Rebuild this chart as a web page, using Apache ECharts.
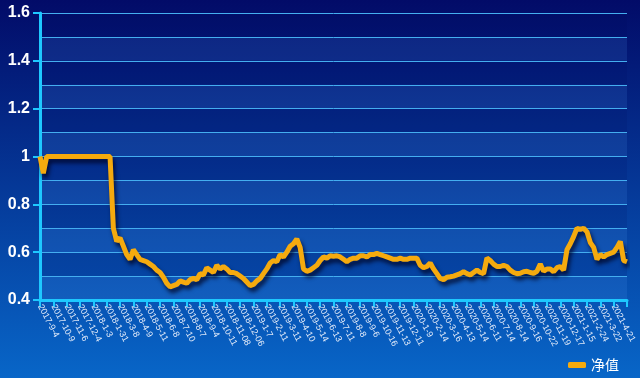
<!DOCTYPE html>
<html>
<head>
<meta charset="utf-8">
<script src="https://cdn.jsdelivr.net/npm/echarts@6/dist/echarts.min.js"></script>
<style>
	html, body {margin: 0; padding: 0;}
	#chart {width: 640px; height: 378px;}
</style>
</head>
<body>
<div id="chart"></div>
<script>
// 坐标轴上显示的日期(每4个点一个)
var tickDates = ["2017-9-4","2017-10-9","2017-11-6","2017-12-4","2018-1-3","2018-1-31","2018-3-8","2018-4-9",
	"2018-5-11","2018-6-8","2018-7-10","2018-8-7","2018-9-4","2018-10-11","2018-11-08","2018-12-06",
	"2019-1-7","2019-2-11","2019-3-11","2019-4-10","2019-5-14","2019-6-13","2019-7-11","2019-8-8",
	"2019-9-6","2019-10-16","2019-11-13","2019-12-11","2020-1-9","2020-2-14","2020-3-16","2020-4-13",
	"2020-5-14","2020-6-11","2020-7-14","2020-8-14","2020-9-16","2020-10-22","2020-11-19","2020-12-17",
	"2021-1-15","2021-2-24","2021-3-22","2021-4-21"];
var stepPerTick = 4;

// 净值
var navValues = [
	1.0, 0.93, 1.0, 1.0, 1.0, 1.0, 1.0, 1.0, 1.0, 1.0,
	1.0, 1.0, 1.0, 1.0, 1.0, 1.0, 1.0, 1.0, 1.0, 1.0,
	1.0, 1.0, 0.70, 0.645, 0.66, 0.625, 0.59, 0.57, 0.61, 0.59, 0.57,
	0.565, 0.56, 0.55, 0.54, 0.525, 0.515, 0.495, 0.47, 0.455, 0.46,
	0.465, 0.48, 0.475, 0.47, 0.485, 0.49, 0.485, 0.51, 0.505, 0.535,
	0.525, 0.515, 0.545, 0.53, 0.54, 0.53, 0.515, 0.515, 0.51, 0.50,
	0.49, 0.475, 0.46, 0.465, 0.48, 0.49, 0.51, 0.53, 0.555, 0.565,
	0.56, 0.59, 0.58, 0.60, 0.625, 0.635, 0.655, 0.62, 0.53, 0.52,
	0.525, 0.535, 0.545, 0.565, 0.58, 0.575, 0.585, 0.583, 0.585, 0.58, 0.57,
	0.56, 0.57, 0.575, 0.575, 0.585, 0.585, 0.58, 0.59, 0.59, 0.595,
	0.59, 0.585, 0.58, 0.575, 0.57, 0.57, 0.575, 0.57, 0.57, 0.575,
	0.575, 0.575, 0.545, 0.535, 0.54, 0.555, 0.53, 0.51, 0.49, 0.485,
	0.495, 0.497, 0.50, 0.505, 0.51, 0.518, 0.51, 0.505, 0.515, 0.525,
	0.515, 0.51, 0.575, 0.565, 0.55, 0.54, 0.54, 0.545, 0.54, 0.525,
	0.515, 0.51, 0.512, 0.518, 0.52, 0.515, 0.512, 0.52, 0.55, 0.52, 0.53,
	0.53, 0.518, 0.535, 0.54, 0.525, 0.61, 0.635, 0.665, 0.70, 0.695,
	0.70, 0.685, 0.64, 0.62, 0.57, 0.59, 0.58, 0.59, 0.595, 0.60,
	0.62, 0.645, 0.565, 0.56
];

var categories = [];
for (var i = 0; i < navValues.length; i++) {
	categories.push(i % stepPerTick == 0 ? (tickDates[i / stepPerTick] || "") : "");
}

var axisColor = '#1ec8ff';

var option = {
	backgroundColor: new echarts.graphic.LinearGradient(0, 0, 0, 1, [
		{offset: 0, color: '#020b68'},
		{offset: 1, color: '#0866c8'}
	]),
	animation: false,
	grid: {left: 40, right: 13, top: 13, bottom: 78, containLabel: false, outerBoundsMode: 'none'},
	legend: {
		right: 16,
		bottom: 1,
		icon: 'roundRect',
		itemWidth: 18,
		itemHeight: 6,
		textStyle: {color: '#fff', fontSize: 14, fontFamily: 'Noto Sans CJK SC'},
		data: ['净值']
	},
	xAxis: {
		type: 'category',
		boundaryGap: false,
		data: categories,
		axisLine: {lineStyle: {color: axisColor, width: 3}},
		axisTick: {interval: stepPerTick - 1, length: 7, lineStyle: {color: axisColor, width: 2}},
		axisLabel: {
			interval: stepPerTick - 1,
			rotate: -62,
			color: '#e4ecfa',
			fontSize: 9,
			margin: 5,
			fontFamily: 'Liberation Sans'
		},
		splitLine: {show: false}
	},
	yAxis: [
		{
			type: 'value',
			min: 0.4,
			max: 1.6,
			interval: 0.1,
			position: 'left',
			axisLine: {show: false},
			axisTick: {show: false},
			axisLabel: {show: false},
			splitLine: {lineStyle: {color: '#44aef0', width: 1}},
			splitArea: {
				show: true,
				areaStyle: {color: ['rgba(90,170,255,0.13)', 'rgba(0,10,90,0.12)']}
			}
		},
		{
			type: 'value',
			min: 0.4,
			max: 1.6,
			interval: 0.2,
			position: 'left',
			axisLine: {show: true, lineStyle: {color: axisColor, width: 3}},
			axisTick: {show: true, length: 7, lineStyle: {color: axisColor, width: 2}},
			axisLabel: {
				color: '#fff',
				fontSize: 16,
				fontWeight: 'bold',
				fontFamily: 'Liberation Sans',
				margin: 10,
				formatter: function (v) { return parseFloat(v.toFixed(1)).toString(); }
			},
			splitLine: {show: false}
		}
	],
	series: [{
		name: '净值',
		type: 'line',
		yAxisIndex: 0,
		data: navValues,
		showSymbol: false,
		symbol: 'none',
		itemStyle: {color: '#f5aa0e'},
		lineStyle: {
			color: '#f5aa0e',
			width: 5,
			shadowColor: 'rgba(0,0,30,0.75)',
			shadowBlur: 4,
			shadowOffsetX: 2,
			shadowOffsetY: 4
		}
	}]
};

var myChart = echarts.init(document.getElementById('chart'));
myChart.setOption(option);
</script>
</body>
</html>
